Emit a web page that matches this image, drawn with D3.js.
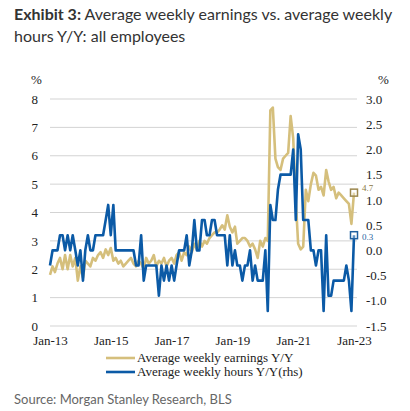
<!DOCTYPE html>
<html>
<head>
<meta charset="utf-8">
<title>Average weekly earnings vs. average weekly hours</title>
<script src="https://d3js.org/d3.v7.min.js"></script>
<style>
  body { margin: 0; background: #fff; }
  svg { display: block; }
</style>
</head>
<body>
<svg id="chart"></svg>
<script>
// monthly, Jan-13 .. Jan-23
const startMonth = new Date(2013, 0, 1);

// average weekly earnings Y/Y, % (left axis)
const earnings = [
  1.8, 2.1, 1.9, 2.2, 2.4, 2.0, 2.5, 2.0, 2.5, 2.1, 2.4, 1.6,
  2.1, 1.7, 2.3, 2.2, 2.1, 2.4, 2.3, 2.5, 2.6, 2.4, 2.7, 2.5,
  2.75, 2.3, 2.4, 2.2, 2.3, 2.1, 2.2, 2.3, 2.4, 2.2, 2.1, 2.3,
  2.2, 2.0, 2.4, 2.2, 2.3, 2.5, 2.1, 2.3, 2.2, 2.4, 2.1, 2.3,
  2.4, 2.2, 2.5, 2.6, 2.3, 2.6, 2.5, 2.8, 2.6, 2.9, 2.7, 3.0,
  2.8, 3.0, 2.9, 3.1, 3.2, 3.3, 3.3, 3.4, 3.55, 3.4, 3.9, 3.5,
  3.3, 3.5, 2.9, 3.0, 3.1, 3.1, 3.0, 2.8, 2.9, 2.7, 2.4, 3.0,
  2.8, 3.1, 3.0, 7.6, 7.7, 5.9, 5.6, 5.5, 5.9, 6.0, 6.1, 7.4,
  6.6, 4.4, 2.9, 2.7, 2.8, 4.8, 4.4, 5.0, 5.4, 5.3, 4.8, 4.9,
  4.6, 5.5, 5.1, 4.8, 4.9, 4.5, 4.7, 4.6, 4.5, 4.4, 4.3, 3.6,
  4.7
];

// average weekly hours Y/Y, % (right axis)
const hours = [
  -0.3, 0.0, 0.0, 0.0, 0.3, 0.3, 0.0, 0.3, 0.0, 0.3, 0.0, -0.3,
  0.0, -0.6, 0.0, 0.3, 0.0, 0.0, 0.3, 0.3, 0.3, 0.3, 0.6, 0.9,
  0.3, 0.9, 0.0, 0.0, 0.0, 0.0, 0.0, 0.0, 0.0, 0.0, -0.3, -0.3,
  0.3, -0.6, -0.3, -0.3, -0.3, -0.3, -0.3, -0.9, -0.3, -0.6, -0.3, -0.6,
  -0.3, -0.6, -0.3, 0.0, 0.0, 0.0, 0.3, -0.3, 0.0, 0.6, 0.0, 0.0,
  0.6, 0.6, 0.3, 0.3, 0.6, 0.6, 0.3, 0.3, 0.3, 0.3, -0.3, 0.3,
  -0.3, 0.0, -0.3, -0.3, -0.6, -0.3, -0.3, 0.0, -0.6, -0.3, -0.6, -0.6,
  -0.6, 0.0, -1.2, 0.9, 0.6, 0.6, 1.2, 1.5, 1.5, 1.5, 1.5, 1.5,
  2.0, 0.6, 2.3, 2.0, 0.6, 0.6, 0.6, 0.0, 0.0, -0.3, 0.0, 0.0,
  -1.2, 0.3, -0.9, -0.9, -0.6, -0.6, -0.6, -0.6, -0.6, -0.3, -0.6, -1.2,
  0.3
];

const leftTicks = [0, 1, 2, 3, 4, 5, 6, 7, 8];
const rightTicks = [-1.5, -1.0, -0.5, 0.0, 0.5, 1.0, 1.5, 2.0, 2.5, 3.0];
const xTickYears = [2013, 2015, 2017, 2019, 2021, 2023];
const seriesNames = ["Average weekly earnings Y/Y", "Average weekly hours Y/Y(rhs)"];

const gold = "#d5bf7c", blue = "#0b5aa6";
const width = 410, height = 411;
const svg = d3.select("#chart").attr("width", width).attr("height", height);

const dates = earnings.map((_, i) => d3.timeMonth.offset(startMonth, i));

const x = d3.scaleTime()
    .domain([new Date(2013, 0, 1), new Date(2023, 0, 1)])
    .range([50, 354]);
const yL = d3.scaleLinear().domain([0, 8]).range([326, 99]);
const yR = d3.scaleLinear().domain([-1.5, 3]).range([326, 99]);

// title
const title = svg.append("text")
    .attr("x", 14).attr("y", 20)
    .style("font-family", "Lato, sans-serif").style("font-size", "16px").attr("fill", "#333");
title.append("tspan").attr("font-weight", "bold").text("Exhibit 3:");
title.append("tspan").text(" Average weekly earnings vs. average weekly");
svg.append("text")
    .attr("x", 14).attr("y", 42)
    .style("font-family", "Lato, sans-serif").style("font-size", "16px").attr("fill", "#333")
    .text("hours Y/Y: all employees");

// gridlines
svg.append("g")
    .selectAll("line")
    .data(leftTicks)
    .join("line")
    .attr("x1", 50).attr("x2", 357)
    .attr("y1", d => yL(d)).attr("y2", d => yL(d))
    .attr("stroke", "#d3d3d3").attr("stroke-width", 1);

const serif = g => g
    .style("font-family", "'Liberation Serif', 'Times New Roman', serif")
    .style("font-size", "13px");

svg.append("g")
    .attr("transform", "translate(38,0)")
    .call(d3.axisLeft(yL).tickValues(leftTicks).tickSize(0).tickPadding(0).tickFormat(d3.format("d")))
    .call(g => g.select(".domain").remove())
    .call(serif)
    .call(g => g.selectAll("text").attr("fill", "#222"));

svg.append("g")
    .attr("transform", "translate(366,0)")
    .call(d3.axisRight(yR).tickValues(rightTicks).tickSize(0).tickPadding(0).tickFormat(d => d.toFixed(1)))
    .call(g => g.select(".domain").remove())
    .call(serif)
    .call(g => g.selectAll("text").attr("fill", "#222"));

svg.append("g")
    .attr("transform", "translate(0,336)")
    .call(d3.axisBottom(x)
        .tickValues(xTickYears.map(y => new Date(y, 0, 1)))
        .tickSize(0).tickPadding(0)
        .tickFormat(d3.timeFormat("%b-%y")))
    .call(g => g.select(".domain").remove())
    .call(serif)
    .call(g => g.selectAll("text").attr("fill", "#222"));

// unit labels
svg.append("text").attr("x", 31).attr("y", 84).call(serif).attr("fill", "#222").text("%");
svg.append("text").attr("x", 378).attr("y", 84).call(serif).attr("fill", "#222").text("%");

// lines
const lineL = d3.line().x((d, i) => x(dates[i])).y(d => yL(d));
const lineR = d3.line().x((d, i) => x(dates[i])).y(d => yR(d));

svg.append("path").datum(earnings)
    .attr("d", lineL).attr("fill", "none")
    .attr("stroke", gold).attr("stroke-width", 2.6).attr("stroke-linejoin", "round");
svg.append("path").datum(hours)
    .attr("d", lineR).attr("fill", "none")
    .attr("stroke", blue).attr("stroke-width", 2.6).attr("stroke-linejoin", "round");

// end markers and labels
const last = earnings.length - 1;
const ends = [
  { y: yL(earnings[last]), v: earnings[last], stroke: "#9c874e", text: "#8a7846", dy: -1.5 },
  { y: yR(hours[last]), v: hours[last], stroke: "#1f5f9f", text: "#1f5f9f", dy: 5 }
];
svg.append("g").selectAll("rect")
    .data(ends)
    .join("rect")
    .attr("x", x(dates[last]) - 3.5).attr("y", d => d.y - 3.5)
    .attr("width", 7).attr("height", 7)
    .attr("fill", "rgba(255,255,255,0.35)")
    .attr("stroke", d => d.stroke).attr("stroke-width", 1.5);
svg.append("g").selectAll("text")
    .data(ends)
    .join("text")
    .attr("x", 362).attr("y", d => d.y + d.dy)
    .style("font-family", "'Liberation Serif', serif").style("font-size", "9px")
    .attr("fill", d => d.text)
    .text(d => d.v.toFixed(1));

// legend
const legend = svg.append("g").selectAll("g")
    .data(seriesNames)
    .join("g")
    .attr("transform", (d, i) => `translate(106,${358 + i * 14})`);
legend.append("line")
    .attr("x1", 0).attr("x2", 29)
    .attr("stroke", (d, i) => i === 0 ? gold : blue)
    .attr("stroke-width", 2.6);
legend.append("text")
    .attr("x", 31).attr("y", 4)
    .call(serif).attr("fill", "#222")
    .text(d => d);

// source
svg.append("text")
    .attr("x", 14).attr("y", 404)
    .style("font-family", "Lato, sans-serif").style("font-size", "13px").attr("fill", "#666")
    .text("Source: Morgan Stanley Research, BLS");
</script>
</body>
</html>
